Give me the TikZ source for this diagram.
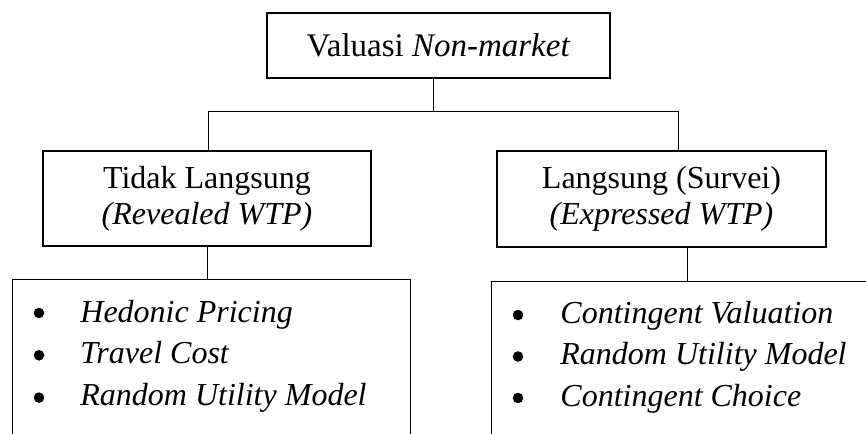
\documentclass[tikz,border=0pt]{standalone}
\usepackage{fontspec}
\setmainfont{Liberation Serif}
\usetikzlibrary{positioning}
\tikzset{
  box/.style={draw,line width=0.7pt,inner sep=0pt,align=center,font=\fontsize{16}{18}\selectfont},
  listbox/.style={draw,line width=0.7pt,inner sep=0pt},
  item/.style={inner sep=0pt,font=\fontsize{16}{18}\selectfont\itshape},
  dot/.style={circle,fill,inner sep=0pt,minimum size=5.3pt},
  link/.style={line width=0.35pt}
}
\begin{document}
\begin{tikzpicture}[x=0.5pt,y=-0.5pt]
\useasboundingbox (0,0) rectangle (866,433);
\clip (0,0) rectangle (866,433);
\node[box,minimum width=171.5pt,minimum height=32.5pt,font=\fontsize{16.5}{18}\selectfont] (top) at (438.5,45.5) {Valuasi \textit{Non-market}};
\node[box,minimum width=164pt,minimum height=47.5pt] (tl) at (207,198.5) {Tidak Langsung\\\textit{(Revealed WTP)}};
\node[box,minimum width=164.5pt,minimum height=48pt] (ls) at (661.5,199) {Langsung (Survei)\\\textit{(Expressed WTP)}};
\node[listbox,minimum width=199pt,minimum height=90pt,anchor=north west] (tlbox) at (12,279) {};
\node[listbox,minimum width=204.5pt,minimum height=90pt,anchor=north west] (lsbox) at (491,281) {};
% bullet lists
\foreach \txt [count=\i] in {Hedonic Pricing,Travel Cost,Random Utility Model}{
  \node[item,anchor=base west] (tlitem\i) at ([shift={(68,{43+41.8*(\i-1)})}]tlbox.north west) {\txt};
  \node[dot] (tldot\i) at ([shift={(27,{34+42.3*(\i-1)})}]tlbox.north west) {};
}
\foreach \txt [count=\i] in {Contingent Valuation,Random Utility Model,Contingent Choice}{
  \node[item,anchor=base west] (lsitem\i) at ([shift={(69,{42+41.5*(\i-1)})}]lsbox.north west) {\txt};
  \node[dot] (lsdot\i) at ([shift={(27,{34+41.5*(\i-1)})}]lsbox.north west) {};
}
\coordinate (hub) at (433,111);
\coordinate (busl) at (208,111);
\coordinate (busr) at (678,111);
\coordinate (rdrop) at (687,0);
\draw[link] (top.south -| hub) -- (hub);
\draw[link] (busl) -- (busr);
\draw[link] (busl) -- (busl |- tl.north);
\draw[link] (busr) -- (busr |- ls.north);
\draw[link] (tl.south) -- (tl.south |- tlbox.north);
\draw[link] (ls.south -| rdrop) -- (rdrop |- lsbox.north);
\end{tikzpicture}
\end{document}
